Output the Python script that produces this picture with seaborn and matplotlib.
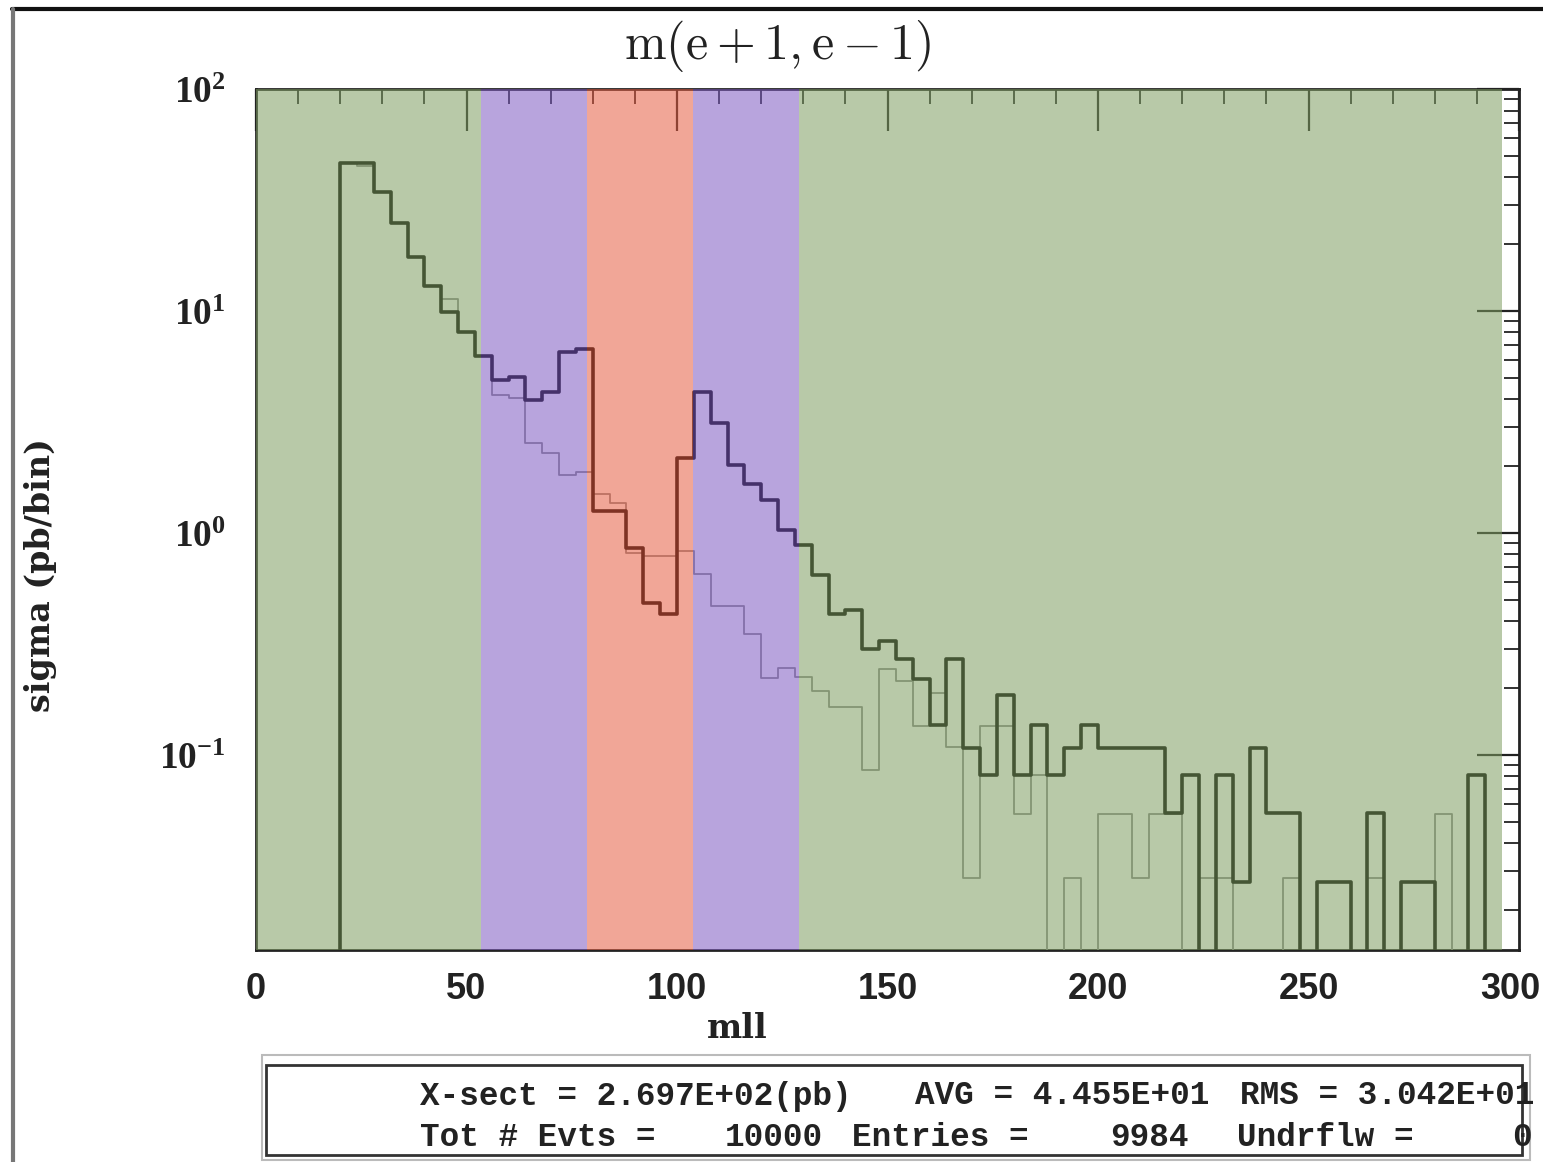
import numpy as np
import pandas as pd
import matplotlib
matplotlib.use("Agg")
import matplotlib.pyplot as plt
import seaborn as sns
from matplotlib.patches import Rectangle
from matplotlib.lines import Line2D
from matplotlib.transforms import ScaledTranslation
from matplotlib.ticker import FixedLocator, MultipleLocator, LogLocator, NullFormatter

# ---------------- data ----------------
bin_start = 20.0
bin_width = 4.0

# main (dark, thick) histogram, pb per bin, bins 20-24 ... 296-300
sigma_dark = [46.6, 46.6, 34.3, 24.8, 17.5, 12.9, 9.86, 8.07, 6.27, 4.88,
              5.06, 3.97, 4.33, 6.56, 6.72, 1.26, 1.26, 0.853, 0.482, 0.431,
              2.17, 4.33, 3.14, 2.02, 1.66, 1.41, 1.03, 0.883, 0.647, 0.431,
              0.450, 0.299, 0.326, 0.270, 0.219, 0.136, 0.270, 0.107, 0.081, 0.186,
              0.081, 0.136, 0.081, 0.107, 0.136, 0.107, 0.107, 0.107, 0.107, 0.0546,
              0.0813, 0.0, 0.0813, 0.0267, 0.107, 0.0546, 0.0546, 0.0, 0.0267, 0.0267,
              0.0, 0.0546, 0.0, 0.0267, 0.0267, 0.0, 0.0, 0.0813, 0.0, 0.0]

# second (light, thin) histogram
sigma_light = [46.6, 45.0, 34.3, 24.8, 17.5, 12.9, 11.3, 8.07, 6.27, 4.19,
               4.05, 2.53, 2.28, 1.82, 1.89, 1.49, 1.37, 0.81, 0.787, 0.787,
               0.832, 0.652, 0.466, 0.470, 0.351, 0.223, 0.245, 0.225, 0.193, 0.165,
               0.165, 0.085, 0.243, 0.216, 0.135, 0.189, 0.108, 0.028, 0.135, 0.135,
               0.054, 0.081, 0.0, 0.028, 0.0, 0.054, 0.054, 0.028, 0.054, 0.054,
               0.0, 0.028, 0.028, 0.0, 0.0, 0.0, 0.028, 0.0, 0.0, 0.0,
               0.0, 0.028, 0.0, 0.0, 0.0, 0.054, 0.0, 0.0, 0.0, 0.0]

# mass windows (GeV) and their colours
band_edges = [0.0, 53.4, 78.6, 103.8, 129.0, 296.0]
band_colors = ["#7e9d61", "#7e5ac2", "#e75d42", "#7e5ac2", "#7e9d61"]

x_ticks = [0, 50, 100, 150, 200, 250, 300]
x_tick_labels = ["0", "50", "100", "150", "200", "250", "300"]
y_ticks = [0.1, 1, 10, 100]
y_tick_labels = [r"$\mathbf{10^{-1}}$", r"$\mathbf{10^{0}}$", r"$\mathbf{10^{1}}$", r"$\mathbf{10^{2}}$"]

title_text = r"$\mathrm{m(e+1,e-1)}$"
x_label = "mll"
y_label = "sigma (pb/bin)"

stats_line1 = [("X-sect = 2.697E+02(pb)", 420), ("AVG = 4.455E+01", 915), ("RMS = 3.042E+01", 1240)]
stats_line2 = [("Tot # Evts =", 420), ("10000", 725), ("Entries =", 852), ("9984", 1110),
               ("Undrflw =", 1237), ("0", 1512)]

# ---------------- style ----------------
sns.set_style("white")
plt.rcParams["font.family"] = ["DejaVu Sans"]
plt.rcParams["mathtext.fontset"] = "custom"
plt.rcParams["mathtext.rm"] = "Liberation Serif"
plt.rcParams["mathtext.bf"] = "Liberation Serif:bold"

W, H = 1543, 1162
fig = plt.figure(figsize=(W / 100, H / 100), dpi=100)
fig.patch.set_facecolor("white")
ax = fig.add_axes([256 / W, 1 - 950 / H, 1263 / W, 861 / H])
ax.set_facecolor("white")

n_bins = len(sigma_dark)
edges = bin_start + bin_width * np.arange(n_bins + 1)
floor = 1e-3


def step_frame(vals):
    v = np.asarray(vals, dtype=float)
    v = np.where(v > 0, v, floor)
    xs = np.r_[edges[0], edges]
    ys = np.r_[floor, v, v[-1]]
    return pd.DataFrame({"m": xs, "sigma": ys})


sns.lineplot(data=step_frame(sigma_light), x="m", y="sigma", estimator=None, sort=False,
             drawstyle="steps-post", color="#8a8a8a", lw=1.3, ax=ax, zorder=2)
sns.lineplot(data=step_frame(sigma_dark), x="m", y="sigma", estimator=None, sort=False,
             drawstyle="steps-post", color="#000000", lw=2.6, ax=ax, zorder=2.2)

for lo, hi, c in zip(band_edges[:-1], band_edges[1:], band_colors):
    ax.axvspan(lo, hi, color=c, alpha=0.55, lw=0, zorder=3)

ax.set_yscale("log")
ax.set_xlim(0, 300)
ax.set_ylim(0.0132, 100)
ax.set_axisbelow(True)

ax.xaxis.set_major_locator(FixedLocator(x_ticks))
ax.set_xticklabels(x_tick_labels)
ax.xaxis.set_minor_locator(MultipleLocator(10))
ax.yaxis.set_major_locator(FixedLocator(y_ticks))
ax.set_yticklabels(y_tick_labels)
ax.yaxis.set_minor_locator(LogLocator(base=10, subs=np.arange(2, 10)))
ax.yaxis.set_minor_formatter(NullFormatter())

ax.tick_params(which="major", direction="in", top=True, right=True, length=30, width=1.6,
               color="#222222")
ax.tick_params(which="minor", direction="in", top=True, right=True, length=11, width=1.3,
               color="#222222")
ax.tick_params(axis="x", which="major", pad=16, labelsize=26, labelcolor="#222222")
ax.tick_params(axis="y", which="major", pad=22, labelsize=27, labelcolor="#222222")
for lab in ax.get_xticklabels():
    lab.set_fontfamily("Liberation Sans")
    lab.set_fontweight("bold")

# the right-most label sits partly past the frame; nudge it so it stays on the canvas
last_lab = ax.xaxis.get_major_ticks()[-1].label1
last_lab.set_transform(last_lab.get_transform() + ScaledTranslation(-0.09, 0, fig.dpi_scale_trans))

for s in ax.spines.values():
    s.set_color("#222222")
    s.set_linewidth(2.0)
    s.set_zorder(1)

ax.set_xlabel(x_label, fontsize=24, fontweight="bold", family="DejaVu Serif", color="#222222")
ax.xaxis.set_label_coords((737 - 256) / 1263, (950 - 1012) / 861)
ax.set_ylabel(y_label, fontsize=24, fontweight="bold", family="DejaVu Serif", color="#222222")
ax.yaxis.set_label_coords((57 - 256) / 1263, (950 - 575) / 861)

fig.text(778 / W, 1 - 46 / H, title_text, fontsize=36, ha="center", va="center",
         math_fontfamily="cm", color="#222222")

# statistics box below the plot
fig.patches.append(Rectangle((262 / W, 1 - 1160 / H), (1530 - 262) / W, (1160 - 1055) / H,
                             transform=fig.transFigure, fill=False, ec="#bbbbbb", lw=1.5))
fig.patches.append(Rectangle((266 / W, 1 - 1155 / H), (1522 - 266) / W, (1155 - 1065) / H,
                             transform=fig.transFigure, fill=False, ec="#333333", lw=2.0))
for txt, px in stats_line1:
    fig.text(px / W, 1 - 1096 / H, txt, fontsize=23.5, family="Liberation Mono",
             fontweight="bold", ha="left", va="center", color="#222222")
for txt, px in stats_line2:
    fig.text(px / W, 1 - 1138 / H, txt, fontsize=23.5, family="Liberation Mono",
             fontweight="bold", ha="left", va="center", color="#222222")

# outer picture border
fig.add_artist(Line2D([12 / W, 1.0], [1 - 9 / H, 1 - 9 / H], transform=fig.transFigure,
                      color="#111111", lw=3))
fig.add_artist(Line2D([13 / W, 13 / W], [0.0, 1 - 9 / H], transform=fig.transFigure,
                      color="#777777", lw=3))

fig.savefig("out.png", dpi=100)
